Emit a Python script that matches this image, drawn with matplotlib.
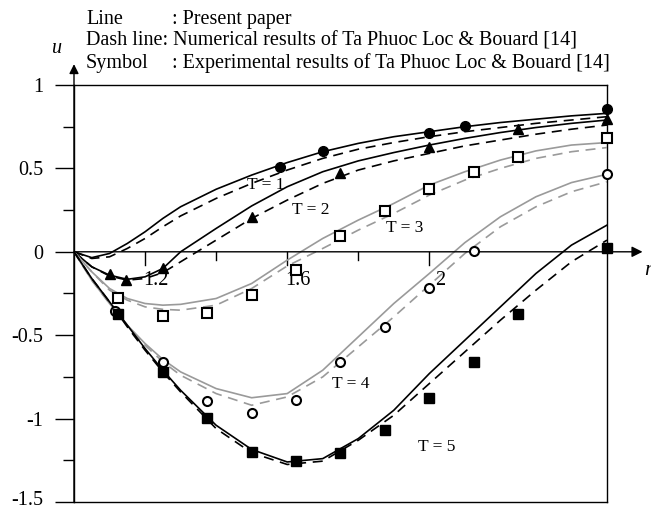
import numpy as np
import matplotlib.pyplot as plt

plt.rcParams['font.family'] = ['Liberation Serif', 'DejaVu Serif']

# radial position shared by all curves
r = [1.0, 1.05, 1.1, 1.15, 1.2, 1.25, 1.3, 1.4, 1.5, 1.6, 1.7, 1.8, 1.9, 2.0, 2.1, 2.2, 2.3, 2.4, 2.5]

# present paper (solid lines)
u1 = [0, -0.035, -0.01, 0.05, 0.12, 0.2, 0.27, 0.375, 0.46, 0.535, 0.6, 0.65, 0.69, 0.72, 0.75, 0.775, 0.795, 0.815, 0.83]
u2 = [0, -0.09, -0.14, -0.165, -0.15, -0.1, 0.0, 0.14, 0.275, 0.39, 0.48, 0.545, 0.595, 0.64, 0.68, 0.715, 0.745, 0.77, 0.79]
u3 = [0, -0.12, -0.22, -0.28, -0.31, -0.32, -0.315, -0.28, -0.19, -0.05, 0.08, 0.19, 0.29, 0.4, 0.48, 0.55, 0.605, 0.64, 0.655]
u4 = [0, -0.17, -0.31, -0.44, -0.55, -0.645, -0.72, -0.82, -0.875, -0.85, -0.71, -0.51, -0.31, -0.13, 0.055, 0.21, 0.33, 0.415, 0.465]
u5 = [0, -0.16, -0.3, -0.44, -0.58, -0.71, -0.83, -1.04, -1.185, -1.26, -1.24, -1.12, -0.95, -0.73, -0.53, -0.33, -0.13, 0.04, 0.16]

# numerical results of Ta Phuoc Loc & Bouard (dashed lines)
d1 = [0, -0.04, -0.03, 0.02, 0.08, 0.15, 0.215, 0.32, 0.41, 0.49, 0.56, 0.615, 0.655, 0.69, 0.72, 0.745, 0.77, 0.79, 0.81]
d2 = [0, -0.09, -0.145, -0.17, -0.16, -0.125, -0.06, 0.07, 0.2, 0.31, 0.41, 0.49, 0.545, 0.59, 0.635, 0.67, 0.705, 0.735, 0.76]
d3 = [0, -0.12, -0.23, -0.29, -0.33, -0.345, -0.35, -0.32, -0.22, -0.085, 0.02, 0.13, 0.23, 0.34, 0.43, 0.5, 0.56, 0.6, 0.625]
d4 = [0, -0.17, -0.31, -0.44, -0.56, -0.66, -0.74, -0.85, -0.92, -0.87, -0.75, -0.57, -0.39, -0.2, -0.01, 0.15, 0.27, 0.36, 0.42]
d5 = [0, -0.16, -0.3, -0.45, -0.59, -0.72, -0.84, -1.06, -1.205, -1.275, -1.255, -1.13, -0.98, -0.79, -0.6, -0.41, -0.23, -0.06, 0.07]

# experimental results (symbols)
e1_r = [1.58, 1.70, 2.0, 2.1, 2.5]
e1_u = [0.509, 0.605, 0.713, 0.754, 0.856]
e2_r = [1.1, 1.145, 1.25, 1.5, 1.75, 2.0, 2.25, 2.5]
e2_u = [-0.132, -0.168, -0.096, 0.21, 0.473, 0.629, 0.737, 0.796]
e3_r = [1.125, 1.25, 1.375, 1.5, 1.625, 1.75, 1.875, 2.0, 2.125, 2.25, 2.5]
e3_u = [-0.275, -0.383, -0.365, -0.257, -0.108, 0.096, 0.246, 0.377, 0.479, 0.569, 0.683]
e4_r = [1.115, 1.25, 1.375, 1.5, 1.625, 1.75, 1.875, 2.0, 2.125, 2.5]
e4_u = [-0.353, -0.659, -0.892, -0.964, -0.886, -0.659, -0.449, -0.216, 0.006, 0.467]
e5_r = [1.125, 1.25, 1.375, 1.5, 1.625, 1.75, 1.875, 2.0, 2.125, 2.25, 2.5]
e5_u = [-0.371, -0.719, -0.994, -1.198, -1.257, -1.204, -1.066, -0.874, -0.659, -0.371, 0.024]

yticks = [1, 0.5, 0, -0.5, -1, -1.5]
ylabels = ['1', '0.5', '0', '-0.5', '-1', '-1.5']

fig = plt.figure(figsize=(6.51, 5.11), dpi=100)
ax = fig.add_axes([74/651, 1 - 502/511, 533/651, 417/511])
ax.set_xlim(1, 2.5)
ax.set_ylim(-1.5, 1)

gray = '#9a9a9a'
dash = (6, 4)
for u, d, c in [(u1, d1, 'k'), (u2, d2, 'k'), (u3, d3, gray), (u4, d4, gray), (u5, d5, 'k')]:
    ax.plot(r, u, color=c, lw=1.2, zorder=3)
    ax.plot(r, d, color=c, lw=1.2, dashes=dash, zorder=3)

ms = 7
ax.plot(e1_r, e1_u, 'o', color='k', ms=ms, zorder=5, clip_on=False)
ax.plot(e2_r, e2_u, '^', color='k', ms=ms, zorder=5, clip_on=False)
ax.plot(e3_r, e3_u, 's', mfc='white', mec='k', mew=1.5, ms=6.5, zorder=5, clip_on=False)
ax.plot(e4_r, e4_u, 'o', mfc='white', mec='k', mew=1.5, ms=6.5, zorder=5, clip_on=False)
ax.plot(e5_r, e5_u, 's', color='k', ms=ms, zorder=5, clip_on=False)

fs = 12.5
ax.text(1.54, 0.40, 'T = 1', fontsize=fs, ha='center', va='center')
ax.text(1.667, 0.25, 'T = 2', fontsize=fs, ha='center', va='center')
ax.text(1.93, 0.14, 'T = 3', fontsize=fs, ha='center', va='center')
ax.text(1.78, -0.79, 'T = 4', fontsize=fs, ha='center', va='center')
ax.text(2.02, -1.17, 'T = 5', fontsize=fs, ha='center', va='center')

# frame and axes
tfs = 14.5
for s in ax.spines.values():
    s.set_linewidth(1.0)
ax.set_xticks([])
ax.set_yticks(yticks)
ax.set_yticklabels([])
ax.set_yticks([0.75, 0.25, -0.25, -0.75, -1.25], minor=True)
ax.tick_params(axis='y', which='major', length=14, width=1.0)
ax.tick_params(axis='y', which='minor', length=8, width=1.0)
ytr = ax.get_yaxis_transform()
for v, lab in zip(yticks, ylabels):
    yy = v + 0.01 if v == -1.5 else v   # keep the lowest label inside the picture
    ax.text(-0.058, yy, lab, transform=ytr, fontsize=tfs, ha='right',
            va='center' if v == -1.5 else 'center_baseline', clip_on=False)

ax.annotate('', xy=(2.60, 0), xytext=(1.0, 0), annotation_clip=False,
            arrowprops=dict(arrowstyle='-|>', color='k', lw=1.0, mutation_scale=16, shrinkA=0, shrinkB=0))
ax.annotate('', xy=(1.0, 1.125), xytext=(1.0, -1.5), annotation_clip=False,
            arrowprops=dict(arrowstyle='-|>', color='k', lw=1.0, mutation_scale=14, shrinkA=0, shrinkB=0))

# ticks on the r axis
for t, lab in [(1.2, '1.2'), (1.4, None), (1.6, '1.6'), (1.8, None), (2.0, '2')]:
    ln = 0.078 if lab else 0.048
    ax.plot([t, t], [0, -ln], color='k', lw=1.0, zorder=2)
    if lab:
        ax.text(t + 0.03, -0.17, lab, fontsize=tfs, ha='center', va='center')

ax.text(2.615, -0.11, 'r', fontsize=tfs + 1, style='italic', ha='center', va='center', clip_on=False)
ax.text(0.952, 1.22, 'u', fontsize=tfs, style='italic', ha='center', va='center', clip_on=False)

# header
hfs = 14.5
hx, cx = 86/651, 172/651
fig.text(hx, 1 - 19/511, 'Line', fontsize=hfs, va='center')
fig.text(cx, 1 - 19/511, ': Present paper', fontsize=hfs, va='center')
fig.text(hx, 1 - 41/511, 'Dash line: Numerical results of Ta Phuoc Loc & Bouard [14]', fontsize=hfs, va='center')
fig.text(hx, 1 - 63/511, 'Symbol', fontsize=hfs, va='center')
fig.text(cx, 1 - 63/511, ': Experimental results of Ta Phuoc Loc & Bouard [14]', fontsize=hfs, va='center')

fig.savefig('out.png', dpi=100)
